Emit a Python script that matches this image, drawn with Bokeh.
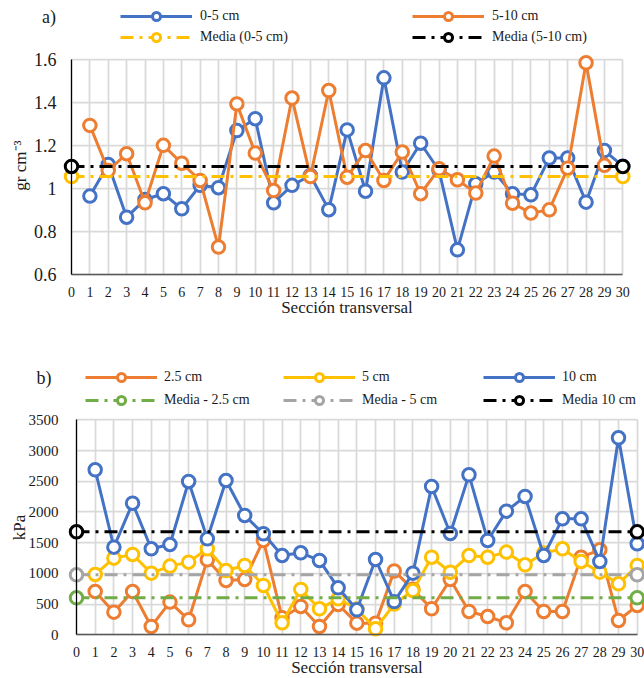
import math
from bokeh.plotting import figure
from bokeh.models import (FixedTicker, Legend, LegendItem, Label, LinearAxis,
                          Grid, Range1d)
from bokeh.embed import file_html
from bokeh.resources import INLINE

FONT = "Liberation Serif"
TXT = "#1a1a1a"
W, H = 644, 678

# ---------------- data: panel a ----------------
sec_ticks = list(range(0, 31))
sec_0_5 = list(range(1, 31))
dens_0_5 = [0.966, 1.113, 0.868, 0.950, 0.977, 0.907, 1.016, 1.005, 1.271, 1.326,
            0.935, 1.016, 1.062, 0.903, 1.274, 0.989, 1.516, 1.078, 1.212, 1.085,
            0.716, 1.023, 1.078, 0.977, 0.972, 1.143, 1.143, 0.938, 1.178, 1.105]
sec_5_10 = list(range(1, 30))
dens_5_10 = [1.295, 1.085, 1.163, 0.935, 1.202, 1.119, 1.039, 0.729, 1.395, 1.166,
             0.992, 1.422, 1.057, 1.457, 1.054, 1.178, 1.039, 1.171, 0.977, 1.093,
             1.042, 0.980, 1.152, 0.933, 0.887, 0.902, 1.096, 1.586, 1.109]
mean_x = [0, 30]
media_0_5 = 1.057
media_5_10 = 1.104
ya_ticks = [0.6, 0.8, 1.0, 1.2, 1.4, 1.6]
ya_labels = ["0.6", "0.8", "1", "1.2", "1.4", "1.6"]

# ---------------- data: panel b ----------------
sec_b = list(range(1, 31))
kpa_2_5 = [705, 369, 705, 136, 532, 244, 1221, 884, 900, 1536,
           277, 461, 136, 494, 190, 190, 1040, 740, 423, 900,
           380, 298, 195, 705, 380, 380, 1264, 1384, 233, 477]
kpa_5 = [982, 1248, 1308, 1004, 1118, 1183, 1400, 1047, 1129, 803,
         195, 738, 423, 586, 420, 98, 500, 721, 1263, 1019,
         1290, 1264, 1346, 1140, 1330, 1400, 1194, 1020, 830, 1129]
kpa_10 = [2686, 1427, 2143, 1400, 1470, 2496, 1563, 2512, 1943, 1644,
          1291, 1335, 1210, 765, 407, 1226, 540, 1004, 2415, 1650,
          2604, 1536, 2013, 2252, 1291, 1888, 1888, 1194, 3207, 1481]
media_2_5 = 602
media_5 = 977
media_10 = 1676
yb_ticks = [0, 500, 1000, 1500, 2000, 2500, 3000, 3500]
yb_labels = ["0", "500", "1000", "1500", "2000", "2500", "3000", "3500"]

BLUE, ORANGE, YELLOW = "#4472C4", "#ED7D31", "#FFC000"
GREEN, GRAY, BLACK = "#70AD47", "#A5A5A5", "#000000"
DASH = "13 6 3 6"


def rng(v0px, v1px, v0, v1, total):
    """Range so that value v0 sits at pixel v0px and v1 at v1px on a canvas
    axis of length total (pixels measured from the range start side)."""
    s = (v1px - v0px) / (v1 - v0)
    return Range1d(v0 - v0px / s, v0 + (total - v0px) / s)


# panel a placement (canvas pixels)
AX0, AX30, AY16, AY06 = 71, 622.3, 59.3, 274.3
# panel b placement
BX0, BX30, BY35, BY0 = 76, 636.7, 419.3, 634.3

p = figure(frame_width=W, frame_height=H, min_border=0,
           x_range=rng(AX0, AX30, 0, 30, W),
           y_range=rng(H - AY06, H - AY16, 0.6, 1.6, H),
           x_axis_type=None, y_axis_type=None,
           toolbar_location=None, output_backend="svg")
p.extra_x_ranges = {"b": rng(BX0, BX30, 0, 30, W)}
p.extra_y_ranges = {"b": rng(H - BY0, H - BY35, 0, 3500, H)}
p.outline_line_color = None
p.background_fill_color = "white"
p.border_fill_color = "white"


def panel_guides(rn, ymin, ymax, y_ticks, y_labels, ylab_standoff, ytick_size):
    kw = {} if rn is None else {"x_range_name": rn, "y_range_name": rn}
    gx = Grid(dimension=0, ticker=FixedTicker(ticks=sec_ticks),
              cross_bounds=(ymin, ymax), grid_line_color="#d9d9d9",
              grid_line_width=1.75, **kw)
    gy = Grid(dimension=1, ticker=FixedTicker(ticks=y_ticks),
              cross_bounds=(0, 30), grid_line_color="#d9d9d9",
              grid_line_width=1.75, **kw)
    p.add_layout(gx)
    p.add_layout(gy)

    xax = LinearAxis(fixed_location=ymin, bounds=(0, 30),
                     ticker=FixedTicker(ticks=sec_ticks),
                     axis_label="Sección transversal", **kw)
    xax.axis_line_color = "#595959"
    xax.axis_line_width = 1.5
    xax.major_tick_line_color = None
    xax.minor_tick_line_color = None
    xax.major_label_standoff = 6
    xax.major_label_text_font = FONT
    xax.major_label_text_font_size = "14px"
    xax.major_label_text_color = TXT
    xax.axis_label_text_font = FONT
    xax.axis_label_text_font_size = "17px"
    xax.axis_label_text_font_style = "normal"
    xax.axis_label_text_color = TXT
    xax.axis_label_standoff = -2
    p.add_layout(xax, "below")

    yax = LinearAxis(fixed_location=0, bounds=(ymin, ymax),
                     ticker=FixedTicker(ticks=y_ticks), **kw)
    yax.major_label_overrides = {t: l for t, l in zip(y_ticks, y_labels)}
    yax.axis_line_color = "#000000"
    yax.axis_line_width = 1.25
    yax.major_tick_line_color = None
    yax.minor_tick_line_color = None
    yax.major_label_standoff = ylab_standoff
    yax.major_label_text_font = FONT
    yax.major_label_text_font_size = ytick_size
    yax.major_label_text_color = TXT
    p.add_layout(yax, "left")


def series(x, y, color, dash="solid", rn=None):
    kw = {} if rn is None else {"x_range_name": rn, "y_range_name": rn}
    lr = p.line(x, y, line_color=color, line_width=3, line_dash=dash,
                line_join="round", **kw)
    sr = p.scatter(x, y, marker="circle", size=12.5, fill_color="white",
                   line_color=color, line_width=3, **kw)
    return [lr, sr]


def add_legend(items, left_px, top_px, standoff, spacing):
    height = 40 + spacing
    lg = Legend(items=[LegendItem(label=l, renderers=r) for l, r in items],
                location=(left_px, H - top_px - height), orientation="vertical",
                glyph_width=72, glyph_height=20, label_height=20,
                label_standoff=standoff, spacing=spacing, padding=0, margin=0,
                border_line_color=None, background_fill_alpha=0,
                label_text_font=FONT, label_text_font_size="14px",
                label_text_color=TXT)
    p.add_layout(lg)


def text_label(x_px, y_px, text, size, angle=0.0):
    p.add_layout(Label(x=x_px, y=H - y_px, x_units="screen", y_units="screen",
                       text=text, angle=angle, text_font=FONT,
                       text_font_size=size, text_color=TXT,
                       text_align="center", text_baseline="middle"))


# ---------------- panel a ----------------
panel_guides(None, 0.6, 1.6, ya_ticks, ya_labels, 9, "18px")
ra1 = series(sec_0_5, dens_0_5, BLUE)
ra2 = series(sec_5_10, dens_5_10, ORANGE)
ra3 = series(mean_x, [media_0_5, media_0_5], YELLOW, DASH)
ra4 = series(mean_x, [media_5_10, media_5_10], BLACK, DASH)
add_legend([("0-5 cm", ra1), ("Media (0-5 cm)", ra3)], 120, 6, 8, 1)
add_legend([("5-10 cm", ra2), ("Media (5-10 cm)", ra4)], 412, 6, 8, 1)
text_label(48.5, 16, "a)", "18px")
text_label(20, 165, "gr cm⁻³", "17px", math.pi / 2)

# ---------------- panel b ----------------
panel_guides("b", 0, 3500, yb_ticks, yb_labels, 12, "15px")
rb1 = series(sec_b, kpa_2_5, ORANGE, rn="b")
rb2 = series(sec_b, kpa_5, YELLOW, rn="b")
rb3 = series(sec_b, kpa_10, BLUE, rn="b")
rb4 = series(mean_x, [media_2_5, media_2_5], GREEN, DASH, rn="b")
rb5 = series(mean_x, [media_5, media_5], GRAY, DASH, rn="b")
rb6 = series(mean_x, [media_10, media_10], BLACK, DASH, rn="b")
add_legend([("2.5 cm", rb1), ("Media - 2.5 cm", rb4)], 85, 366.7, 7, 3)
add_legend([("5 cm", rb2), ("Media - 5 cm", rb5)], 283, 366.7, 7, 3)
add_legend([("10 cm", rb3), ("Media 10 cm", rb6)], 483, 366.7, 7, 3)
text_label(43.5, 377, "b)", "18px")
text_label(18.5, 527, "kPa", "17px", math.pi / 2)

open("out.html", "w").write(file_html(p, INLINE))
